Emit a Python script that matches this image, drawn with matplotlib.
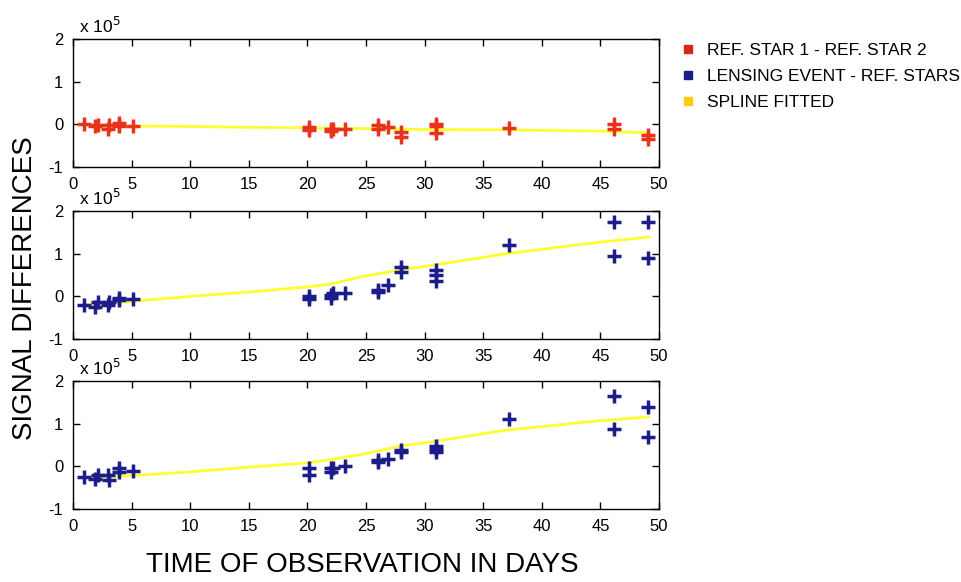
import matplotlib.pyplot as plt
from matplotlib.lines import Line2D

plt.rcParams['font.family'] = ['Liberation Sans', 'DejaVu Sans']
plt.rcParams['axes.unicode_minus'] = False

# observation days (one entry per plotted point)
days = [0.9, 1.9, 2.1, 3.0, 3.1, 3.9, 3.9, 5.1,
        20.1, 20.1, 22.0, 22.0, 22.2, 23.2, 26.0, 26.0, 26.9,
        28.0, 28.0, 31.0, 31.0, 31.0, 37.2, 46.2, 46.2, 49.1, 49.1]

# signal differences, units of 1e5
ref_stars = [0.0, -0.04, -0.02, -0.1, -0.02, 0.03, -0.04, -0.04,
             -0.06, -0.13, -0.1, -0.15, -0.1, -0.12, -0.02, -0.1, -0.06,
             -0.17, -0.29, 0.0, -0.05, -0.2, -0.08, 0.0, -0.1, -0.25, -0.35]
lensing_a = [-0.21, -0.24, -0.13, -0.21, -0.13, -0.03, -0.08, -0.06,
             0.0, -0.06, 0.04, -0.04, 0.07, 0.08, 0.16, 0.1, 0.26,
             0.69, 0.58, 0.61, 0.49, 0.37, 1.21, 1.75, 0.95, 1.75, 0.91]
lensing_b = [-0.25, -0.29, -0.21, -0.21, -0.33, -0.05, -0.13, -0.12,
             -0.05, -0.21, -0.05, -0.13, -0.03, 0.0, 0.16, 0.1, 0.18,
             0.39, 0.34, 0.47, 0.41, 0.34, 1.12, 1.64, 0.88, 1.38, 0.69]

# fitted spline, read at a few days
spline_days = [0.9, 5, 10, 15, 20, 22, 25, 28, 30, 37, 45, 49.1]
spline_ref = [-0.01, -0.04, -0.05, -0.07, -0.08, -0.09, -0.1, -0.11, -0.12, -0.13, -0.16, -0.2]
spline_a = [-0.2, -0.12, 0.0, 0.1, 0.22, 0.29, 0.48, 0.62, 0.7, 1.0, 1.27, 1.39]
spline_b = [-0.26, -0.22, -0.13, -0.02, 0.08, 0.16, 0.3, 0.48, 0.55, 0.85, 1.07, 1.16]

red = '#e8341c'
blue = '#1c1c8a'
yellow = '#ffff30'

fig = plt.figure(figsize=(9.61, 5.82), dpi=100)
W, H = 961, 582
left, right = 73, 659
tops = [39, 211, 381]
height = 128

panels = [(ref_stars, spline_ref, red), (lensing_a, spline_a, blue), (lensing_b, spline_b, blue)]
for top, (vals, spl, col) in zip(tops, panels):
    ax = fig.add_axes([left / W, 1 - (top + height) / H, (right - left) / W, height / H])
    ax.plot(spline_days, spl, color=yellow, lw=2, zorder=1)
    ax.plot(days, vals, linestyle='none', marker='+', ms=10, mew=2.5, color=col, zorder=2)
    ax.set_xlim(0, 50)
    ax.set_ylim(-1, 2)
    ax.set_xticks(range(0, 51, 5))
    ax.set_yticks([-1, 0, 1, 2])
    ax.tick_params(direction='in', length=5, width=1, top=True, right=True,
                   labelsize=12, pad=7)
    for s in ax.spines.values():
        s.set_linewidth(1)
    # offset text, a bit right of the "0" tick label of the panel above
    ax.text(0.01, 1.025, r'x 10$^5$', transform=ax.transAxes, fontsize=12.5,
            ha='left', va='bottom')

fig.text(25 / W, 1 - 288 / H, 'SIGNAL DIFFERENCES', rotation=90, fontsize=20,
         ha='center', va='center')
fig.text(362 / W, 1 - 565 / H, 'TIME OF OBSERVATION IN DAYS', fontsize=20,
         ha='center', va='center')

handles = [Line2D([], [], linestyle='none', marker='s', ms=6, color=c)
           for c in ['#d8261c', blue, '#ffcc10']]
labels = ['REF. STAR 1 - REF. STAR 2', 'LENSING EVENT - REF. STARS', 'SPLINE FITTED']
fig.legend(handles, labels, loc='upper left', bbox_to_anchor=(664 / W, 1 - 27 / H),
           frameon=False, fontsize=12.5, handlelength=1, handletextpad=0.55,
           labelspacing=0.62)

fig.savefig('out.png', dpi=100)
